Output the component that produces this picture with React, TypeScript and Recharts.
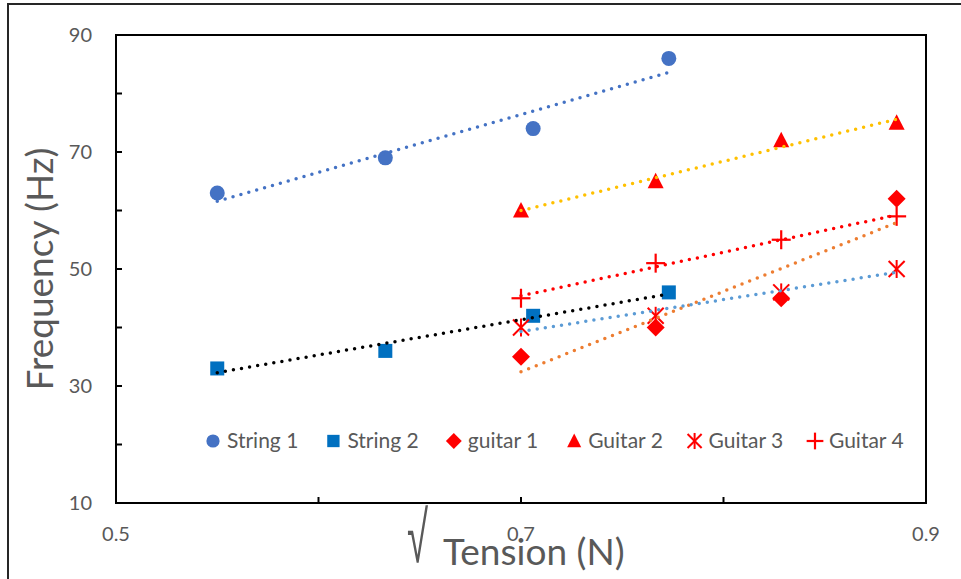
import React from "react";
import { ScatterChart, Scatter, XAxis, YAxis, ReferenceArea } from "recharts";

// sqrt(tension) values for each group
const stringTension = [0.55, 0.633, 0.706, 0.773];
const guitarTension = [0.7, 0.7665, 0.8285, 0.8855];

// frequencies (Hz)
const string1 = [63, 69, 74, 86];
const string2 = [33, 36, 42, 46];
const guitar1 = [35, 40, 45, 62];
const guitar2 = [60, 65, 72, 75];
const guitar3 = [40, 42, 46, 50];
const guitar4 = [45, 51, 55, 59];

const seriesNames = ["String 1", "String 2", "guitar 1", "Guitar 2", "Guitar 3", "Guitar 4"];

const xTicks = [0.5, 0.6, 0.7, 0.8, 0.9];
const xLabels = [0.5, 0.7, 0.9];
const yTicks = [10, 20, 30, 40, 50, 60, 70, 80, 90];
const yLabels = [10, 30, 50, 70, 90];

const FONT = "Lato, 'Open Sans', sans-serif";
const TEXT = "#595959";
const RED = "#FF0000";

type Kind = "circle" | "square" | "diamond" | "triangle" | "star" | "plus";

const series: { name: string; xs: number[]; ys: number[]; kind: Kind; trend: string }[] = [
    { name: seriesNames[0], xs: stringTension, ys: string1, kind: "circle", trend: "#4472C4" },
    { name: seriesNames[1], xs: stringTension, ys: string2, kind: "square", trend: "#000000" },
    { name: seriesNames[2], xs: guitarTension, ys: guitar1, kind: "diamond", trend: "#ED7D31" },
    { name: seriesNames[3], xs: guitarTension, ys: guitar2, kind: "triangle", trend: "#FFC000" },
    { name: seriesNames[4], xs: guitarTension, ys: guitar3, kind: "star", trend: "#5B9BD5" },
    { name: seriesNames[5], xs: guitarTension, ys: guitar4, kind: "plus", trend: "#FF0000" },
];

function Marker({ kind, cx, cy, s = 1 }: { kind: Kind; cx: number; cy: number; s?: number }) {
    if (kind === "circle") return <circle cx={cx} cy={cy} r={7.5 * s} fill="#4472C4" />;
    if (kind === "square") return <rect x={cx - 7 * s} y={cy - 7 * s} width={14 * s} height={14 * s} fill="#0070C0" />;
    if (kind === "diamond") {
        const d = 9 * s;
        return <polygon points={`${cx},${cy - d} ${cx + d},${cy} ${cx},${cy + d} ${cx - d},${cy}`} fill={RED} />;
    }
    if (kind === "triangle") {
        return <polygon points={`${cx},${cy - 8.5 * s} ${cx + 8 * s},${cy + 7 * s} ${cx - 8 * s},${cy + 7 * s}`} fill={RED} />;
    }
    if (kind === "star") {
        const d = 8 * s;
        return (
            <g stroke={RED} strokeWidth={2}>
                <line x1={cx - d} y1={cy - d} x2={cx + d} y2={cy + d} />
                <line x1={cx - d} y1={cy + d} x2={cx + d} y2={cy - d} />
                <line x1={cx} y1={cy - d - 1} x2={cx} y2={cy + d + 1} />
            </g>
        );
    }
    const d = 9.5 * s;
    return (
        <g stroke={RED} strokeWidth={2.2}>
            <line x1={cx - d} y1={cy} x2={cx + d} y2={cy} />
            <line x1={cx} y1={cy - d} x2={cx} y2={cy + d} />
        </g>
    );
}

// ticks point inward, labels sit outside the plot
const XTick = (props: any) => {
    const { x, y, payload } = props;
    const show = xLabels.includes(payload.value);
    return (
        <g>
            <line x1={x} y1={y} x2={x} y2={y - 6} stroke="#000" strokeWidth={2} />
            {show && (
                <text x={x} y={y + 38} textAnchor="middle" fill={TEXT} fontSize={20} fontFamily={FONT}>
                    {Number(payload.value).toFixed(1)}
                </text>
            )}
        </g>
    );
};

const YTick = (props: any) => {
    const { x, y, payload } = props;
    const show = yLabels.includes(payload.value);
    return (
        <g>
            <line x1={x} y1={y} x2={x + 6} y2={y} stroke="#000" strokeWidth={2} />
            {show && (
                <text x={x - 24} y={y + 7} textAnchor="end" fill={TEXT} fontSize={20} fontFamily={FONT}>
                    {payload.value}
                </text>
            )}
        </g>
    );
};

export default function App() {
    const tables = series.map(s => s.xs.map((x, i) => ({ x, y: s.ys[i] })));

    return (
        <div style={{ position: "absolute", left: 0, top: 0, width: 961, height: 579, background: "#fff", overflow: "hidden" }}>
            {/* picture frame */}
            <div style={{ position: "absolute", left: 7, top: 3, right: -4, bottom: -4, borderTop: "2px solid #262626", borderLeft: "2px solid #262626" }} />

            <div style={{ position: "absolute", left: 0, top: 0 }}>
                <ScatterChart width={961} height={579} margin={{ top: 35, right: 35, bottom: 36, left: 56 }}>
                    <XAxis
                        type="number"
                        dataKey="x"
                        domain={[0.5, 0.9]}
                        ticks={xTicks}
                        interval={0}
                        height={40}
                        axisLine={false}
                        tickLine={false}
                        tickSize={0}
                        tickMargin={0}
                        tick={XTick}
                    />
                    <YAxis
                        type="number"
                        dataKey="y"
                        domain={[10, 90]}
                        ticks={yTicks}
                        interval={0}
                        width={60}
                        axisLine={false}
                        tickLine={false}
                        tickSize={0}
                        tickMargin={0}
                        tick={YTick}
                    />
                    <ReferenceArea x1={0.5} x2={0.9} y1={10} y2={90} fill="none" fillOpacity={0} stroke="#000" strokeWidth={2} />

                    {/* markers */}
                    {series.map((s, i) => (
                        <Scatter
                            key={`m-${s.name}`}
                            name={s.name}
                            data={tables[i]}
                            isAnimationActive={false}
                            shape={(p: any) => <Marker kind={s.kind} cx={p.cx} cy={p.cy} />}
                        />
                    ))}

                    {/* dotted linear trendlines, drawn over the markers */}
                    {series.map((s, i) => (
                        <Scatter
                            key={`t-${s.name}`}
                            data={tables[i]}
                            isAnimationActive={false}
                            legendType="none"
                            fill={s.trend}
                            shape={() => <g />}
                            lineType="fitting"
                            line={{ stroke: s.trend, strokeWidth: 3.5, strokeDasharray: "0 8.2", strokeLinecap: "round" }}
                        />
                    ))}
                </ScatterChart>
            </div>

            <svg width={961} height={579} style={{ position: "absolute", left: 0, top: 0, pointerEvents: "none" }}>
                <text transform="translate(53,269) rotate(-90)" textAnchor="middle" fill={TEXT} fontSize={37} fontFamily={FONT}>
                    Frequency (Hz)
                </text>
                <text
                    transform="translate(407,562) scale(0.8,1.5)"
                    fill={TEXT}
                    fontSize={48}
                    fontWeight={200}
                    fontFamily="'DejaVu Sans', sans-serif"
                >
                    √
                </text>
                <text x={443} y={565} fill={TEXT} fontSize={37} fontFamily={FONT}>Tension (N)</text>

                {series.map((s, i) => {
                    const cx = 213 + i * 120.4;
                    return (
                        <g key={`l-${s.name}`}>
                            <Marker kind={s.kind} cx={cx} cy={441} s={0.88} />
                            <text x={cx + 14} y={448} fill={TEXT} fontSize={21} fontFamily={FONT}>
                                {s.name}
                            </text>
                        </g>
                    );
                })}
            </svg>
        </div>
    );
}
